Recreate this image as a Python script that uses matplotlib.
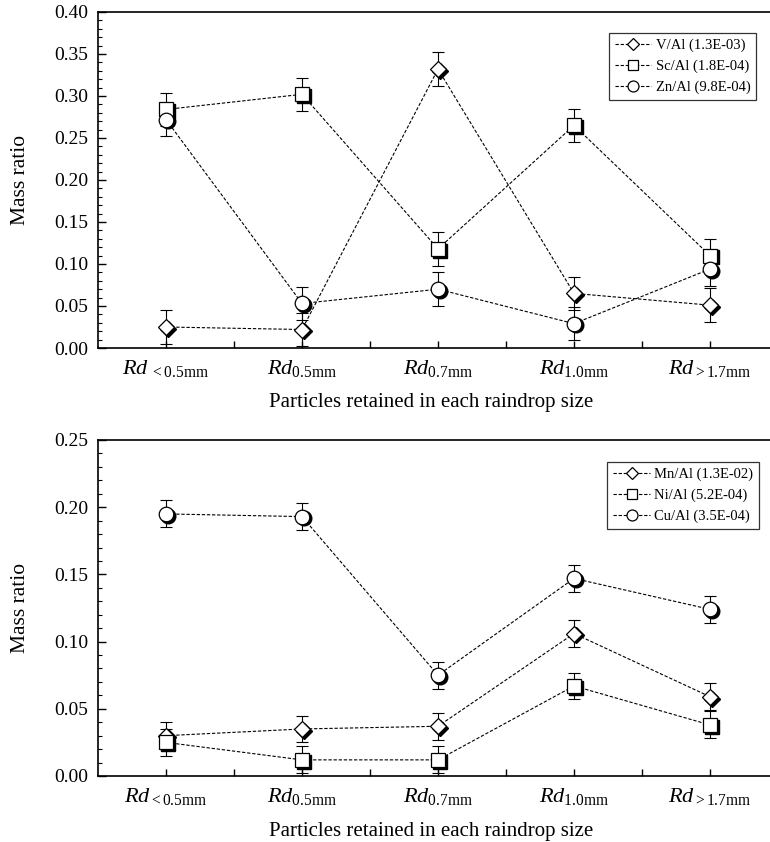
import numpy as np
import matplotlib
matplotlib.use('Agg')
import matplotlib.pyplot as plt
from matplotlib.ticker import MultipleLocator, FixedLocator
from matplotlib.transforms import offset_copy

plt.rcParams['font.family'] = 'Liberation Serif'
plt.rcParams['mathtext.fontset'] = 'custom'
plt.rcParams['mathtext.rm'] = 'Liberation Serif'
plt.rcParams['mathtext.it'] = 'Liberation Serif:italic'

# Data
x = np.arange(1, 6)
labels_top = [r'$Rd_{\ \mathrm{<0.5mm}}$', r'$Rd_{\mathrm{0.5mm}}$', r'$Rd_{\mathrm{0.7mm}}$',
              r'$Rd_{\mathrm{1.0mm}}$', r'$Rd_{\mathrm{>1.7mm}}$']
labels_bot = [r'$Rd_{\mathrm{<0.5mm}}$', r'$Rd_{\mathrm{0.5mm}}$', r'$Rd_{\mathrm{0.7mm}}$',
              r'$Rd_{\mathrm{1.0mm}}$', r'$Rd_{\mathrm{>1.7mm}}$']

v_al  = [0.025, 0.022, 0.332, 0.065, 0.051]
v_err = [0.020, 0.020, 0.020, 0.020, 0.020]
sc_al  = [0.284, 0.302, 0.118, 0.265, 0.110]
sc_err = [0.020, 0.020, 0.020, 0.020, 0.020]
zn_al  = [0.272, 0.053, 0.070, 0.029, 0.094]
zn_err = [0.020, 0.020, 0.020, 0.020, 0.020]

mn_al  = [0.030, 0.035, 0.037, 0.106, 0.059]
mn_err = [0.010, 0.010, 0.010, 0.010, 0.010]
ni_al  = [0.025, 0.012, 0.012, 0.067, 0.038]
ni_err = [0.010, 0.010, 0.010, 0.010, 0.010]
cu_al  = [0.195, 0.193, 0.075, 0.147, 0.124]
cu_err = [0.010, 0.010, 0.010, 0.010, 0.010]

top_series = [(v_al, v_err, 'D', 8, 'V/Al (1.3E-03)'),
              (sc_al, sc_err, 's', 10, 'Sc/Al (1.8E-04)'),
              (zn_al, zn_err, 'o', 10.5, 'Zn/Al (9.8E-04)')]
bot_series = [(mn_al, mn_err, 'D', 8, 'Mn/Al (1.3E-02)'),
              (ni_al, ni_err, 's', 10, 'Ni/Al (5.2E-04)'),
              (cu_al, cu_err, 'o', 10.5, 'Cu/Al (3.5E-04)')]

fig = plt.figure(figsize=(7.7, 8.42), dpi=100)
ax1 = fig.add_axes([98/770, 1 - 348/842, 680/770, 336/842])
ax2 = fig.add_axes([98/770, 1 - 776/842, 680/770, 336/842])


def draw(ax, series, ylim, labels, leg_anchor):
    shadow = offset_copy(ax.transData, fig=fig, x=1.3, y=-1.3, units='points')
    handles = []
    for vals, err, mk, ms, lab in series:
        ax.errorbar(x, vals, yerr=err, fmt='none', ecolor='black', elinewidth=0.8,
                    capsize=4, capthick=0.8, zorder=2)
        ax.plot(x, vals, ls='none', marker=mk, ms=ms, mfc='black', mec='black',
                transform=shadow, zorder=3)
        h, = ax.plot(x, vals, color='black', lw=0.8, dashes=(3, 1.6), marker=mk, ms=ms,
                     mfc='white', mec='black', mew=0.9, zorder=4, label=lab)
        handles.append(h)
    ax.set_xlim(0.5, 5.5)
    ax.set_ylim(*ylim)
    ax.xaxis.set_major_locator(FixedLocator(x))
    ax.xaxis.set_minor_locator(FixedLocator(x[:-1] + 0.5))
    ax.set_xticklabels(labels, fontsize=16)
    ax.yaxis.set_major_locator(MultipleLocator(0.05))
    ax.yaxis.set_minor_locator(MultipleLocator(0.01))
    ax.yaxis.set_major_formatter(plt.FormatStrFormatter('%.2f'))
    ax.tick_params(axis='both', which='both', direction='in', top=False, right=False)
    ax.tick_params(axis='x', which='both', length=5, width=1, pad=7)
    ax.tick_params(axis='y', which='major', length=6, width=1, labelsize=14, pad=7)
    ax.tick_params(axis='y', which='minor', length=3, width=0.8)
    for s in ax.spines.values():
        s.set_linewidth(1.2)
    ax.set_ylabel('Mass ratio', fontsize=15.5)
    ax.yaxis.set_label_coords(-0.1, 0.5)
    ax.set_xlabel('Particles retained in each raindrop size', fontsize=15)
    ax.xaxis.set_label_coords(0.49, -0.135)
    leg = ax.legend(handles=handles, loc='upper right', bbox_to_anchor=leg_anchor,
                    fontsize=10.5, frameon=True, fancybox=False, edgecolor='black',
                    handlelength=2.5, handletextpad=0.3, borderpad=0.4,
                    labelspacing=0.5, markerscale=0.75, borderaxespad=0)
    leg.get_frame().set_linewidth(0.9)
    for lh in leg.legend_handles:
        lh.set_linewidth(0.8)


draw(ax1, top_series, (0, 0.40), labels_top, (0.968, 0.9375))
draw(ax2, bot_series, (0, 0.25), labels_bot, (0.972, 0.9345))
ax2.xaxis.set_label_coords(0.49, -0.138)

fig.savefig('out.png', dpi=100)
